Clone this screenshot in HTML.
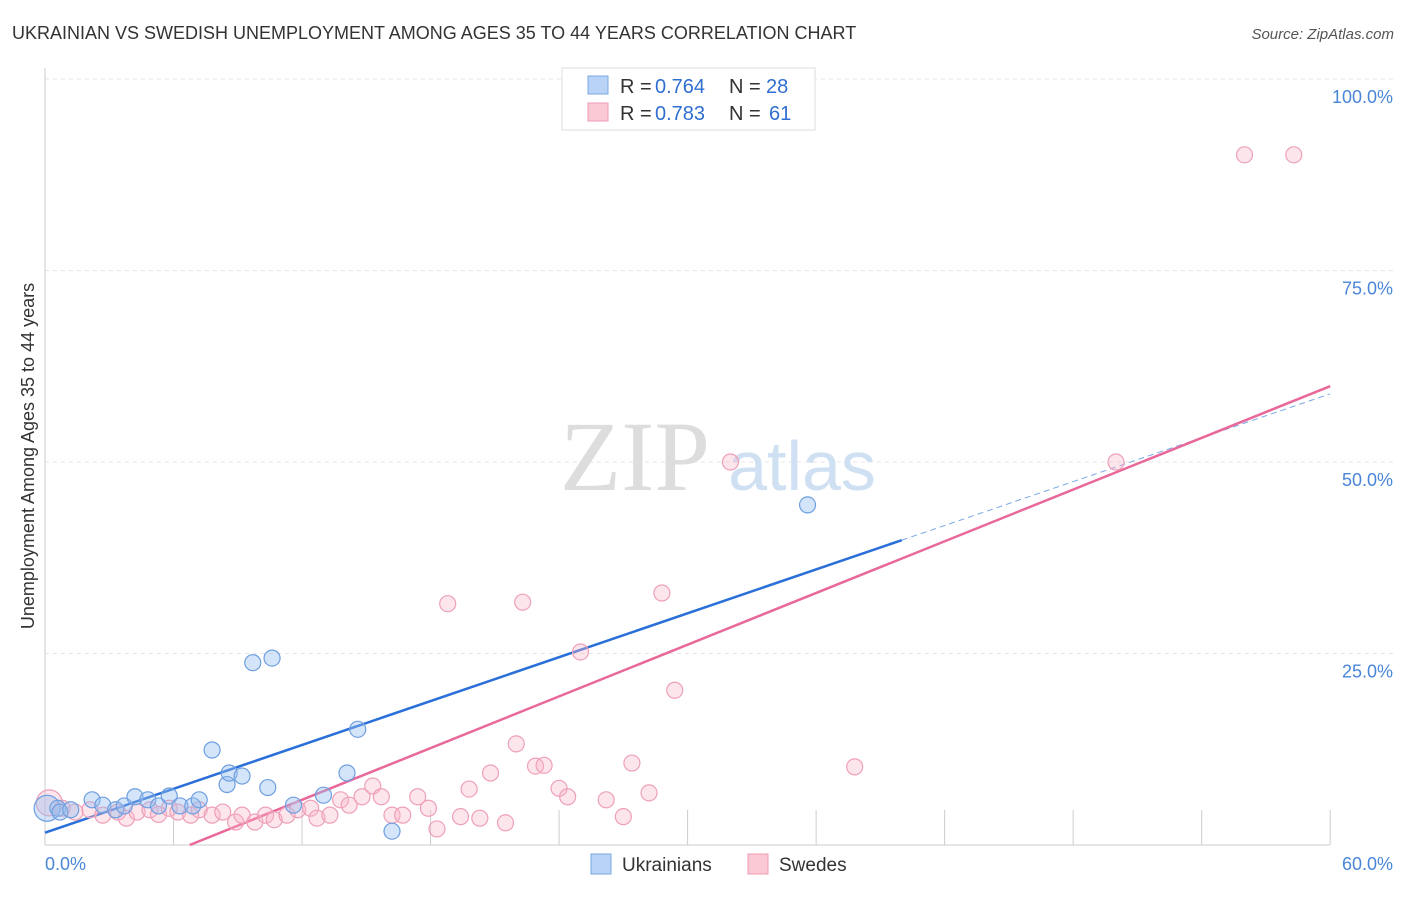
<!DOCTYPE html>
<html><head><meta charset="utf-8"><style>
body{margin:0;background:#fff;font-family:"Liberation Sans",sans-serif;}
</style></head><body>
<svg width="1406" height="892" font-family="Liberation Sans, sans-serif">
<text x="12" y="39" font-size="18" fill="#333">UKRAINIAN VS SWEDISH UNEMPLOYMENT AMONG AGES 35 TO 44 YEARS CORRELATION CHART</text>
<text x="1394" y="39" font-size="15" fill="#555" text-anchor="end" font-style="italic">Source: ZipAtlas.com</text>
<g id="grid"></g>
<text x="635" y="490" font-size="100" fill="#ddd" text-anchor="middle" style="font-family:'Liberation Serif',serif">ZIP</text>
<text x="802" y="490" font-size="70" fill="#cfe0f3" text-anchor="middle">atlas</text>
<text transform="translate(34,456) rotate(-90)" font-size="18" fill="#333" text-anchor="middle">Unemployment Among Ages 35 to 44 years</text>
<g id="lines"></g>
<g id="points"></g>
<g>
<rect x="562" y="68" width="253" height="62" fill="#fff" stroke="#ddd"/>
<rect x="588" y="76" width="20" height="18" fill="#b8d3f5" stroke="#7aa8e6"/>
<rect x="588" y="103" width="20" height="18" fill="#fbc8d6" stroke="#ef9bb3"/>
<text x="620" y="93" font-size="20" fill="#333">R =</text>
<text x="655" y="93" font-size="20" fill="#2f6fd0">0.764</text>
<text x="729" y="93" font-size="20" fill="#333">N =</text>
<text x="766" y="93" font-size="20" fill="#2f6fd0">28</text>
<text x="620" y="120" font-size="20" fill="#333">R =</text>
<text x="655" y="120" font-size="20" fill="#2f6fd0">0.783</text>
<text x="729" y="120" font-size="20" fill="#333">N =</text>
<text x="769" y="120" font-size="20" fill="#2f6fd0">61</text>
</g>
<g>
<rect x="591" y="854" width="20" height="20" fill="#b8d3f5" stroke="#7aa8e6"/>
<text x="622" y="871" font-size="19" fill="#333">Ukrainians</text>
<rect x="748" y="854" width="20" height="20" fill="#fbc8d6" stroke="#ef9bb3"/>
<text x="779" y="871" font-size="19" fill="#333">Swedes</text>
</g>
</svg>
<script>
const yTicks=[25,50,75,100];
const yTickLabels=["25.0%","50.0%","75.0%","100.0%"];
const xTicks=[6,12,18,24,30,36,42,48,54,60];
const ukrX=[0.1,0.6,0.7,1.2,2.2,2.7,3.3,3.7,4.2,4.8,5.3,5.8,6.3,6.9,7.2,7.8,8.5,8.6,9.2,9.7,10.4,10.6,11.6,13.0,14.1,14.6,16.2,35.6];
const ukrY=[4.8,4.8,4.3,4.6,5.9,5.2,4.6,5.1,6.3,5.9,5.1,6.4,5.1,5.1,5.9,12.4,7.9,9.4,9.0,23.8,7.5,24.4,5.2,6.5,9.4,15.1,1.8,44.4];
const sweX=[0.2,0.8,1.4,2.1,2.7,3.4,3.8,4.3,4.9,5.3,5.8,6.2,6.8,7.2,7.8,8.3,8.9,9.2,9.8,10.3,10.7,11.3,11.8,12.4,12.7,13.3,13.8,14.2,14.8,15.3,15.7,16.2,16.7,17.4,17.9,18.3,18.8,19.4,19.8,20.3,20.8,21.5,22.0,22.3,22.9,23.3,24.0,24.4,25.0,26.2,27.0,27.4,28.2,28.8,29.4,32.0,37.8,50.0,56.0,58.3];
const sweY=[5.5,4.8,4.3,4.6,3.9,4.3,3.5,4.3,4.6,4.0,4.8,4.3,3.9,4.6,3.9,4.3,3.0,3.9,3.0,3.9,3.3,3.9,4.6,4.8,3.5,3.9,5.9,5.2,6.3,7.7,6.3,3.9,3.9,6.3,4.8,2.1,31.5,3.7,7.3,3.5,9.4,2.9,13.2,31.7,10.3,10.4,7.4,6.3,25.2,5.9,3.7,10.7,6.8,32.9,20.2,50.0,10.2,50.0,90.1,90.1];
const ukrLine=[1.6,58.9];
const sweLine=[-7.6,59.9];
const X=v=>45+v*21.42, Y=v=>845-v*7.66;
const NS='http://www.w3.org/2000/svg';
function mk(t,a,p){const e=document.createElementNS(NS,t);for(const k in a)e.setAttribute(k,a[k]);p.appendChild(e);return e;}
const g=document.getElementById('grid');
yTicks.forEach((t,i)=>{
 const l=mk('line',{x1:45,x2:1395,y1:Y(t),y2:Y(t),stroke:'#e4e4e4','stroke-dasharray':'4,4'},g);
 
 
 const tx=mk('text',{x:1393,y:Y(t)+24,'font-size':18,fill:'#4a86d8','text-anchor':'end'},g);
 tx.textContent=yTickLabels[i];
 
 
});
const ax=mk('line',{x1:45,x2:45,y1:68,y2:845,stroke:'#ccc'},g);


const bx=mk('line',{x1:45,x2:1330,y1:845,y2:845,stroke:'#ccc'},g);


xTicks.forEach(t=>{
 const l=mk('line',{x1:X(t),x2:X(t),y1:810,y2:845,stroke:'#ccc'},g);
 
 
});
[[0,'0.0%','start',45],[60,'60.0%','end',1393]].forEach(d=>{
 const tx=mk('text',{x:d[3],y:870,'font-size':18,fill:'#4a86d8','text-anchor':d[2]},g);
 tx.textContent=d[1];
 
 
});
const pg=document.getElementById('points');
sweX.forEach((x,i)=>{
 const c=mk('circle',{cx:X(x),cy:Y(sweY[i]),r:i==0?13:8,fill:'rgba(248,180,200,0.35)',stroke:'#eea0b8','stroke-width':1.2},pg);
 
 
});
ukrX.forEach((x,i)=>{
 const c=mk('circle',{cx:X(x),cy:Y(ukrY[i]),r:i==0?13:8,fill:'rgba(150,190,240,0.4)',stroke:'#6e9fe0','stroke-width':1.2},pg);
 
 
});
const lg=document.getElementById('lines');
const uy=x=>ukrLine[0]+(ukrLine[1]-ukrLine[0])*x/60;
let l1=mk('line',{x1:X(0),y1:Y(uy(0)),x2:X(40),y2:Y(uy(40)),stroke:'#2a70d8','stroke-width':2.5},lg);


let l2=mk('line',{x1:X(40),y1:Y(uy(40)),x2:X(60),y2:Y(uy(60)),stroke:'#7aa8e6','stroke-width':1,'stroke-dasharray':'6,4'},lg);


const sy=x=>sweLine[0]+(sweLine[1]-sweLine[0])*x/60;
const x0=-sweLine[0]*60/(sweLine[1]-sweLine[0]);
let l3=mk('line',{x1:X(x0),y1:Y(0),x2:X(60),y2:Y(sy(60)),stroke:'#e8689a','stroke-width':2.5},lg);


</script>
</body></html>
